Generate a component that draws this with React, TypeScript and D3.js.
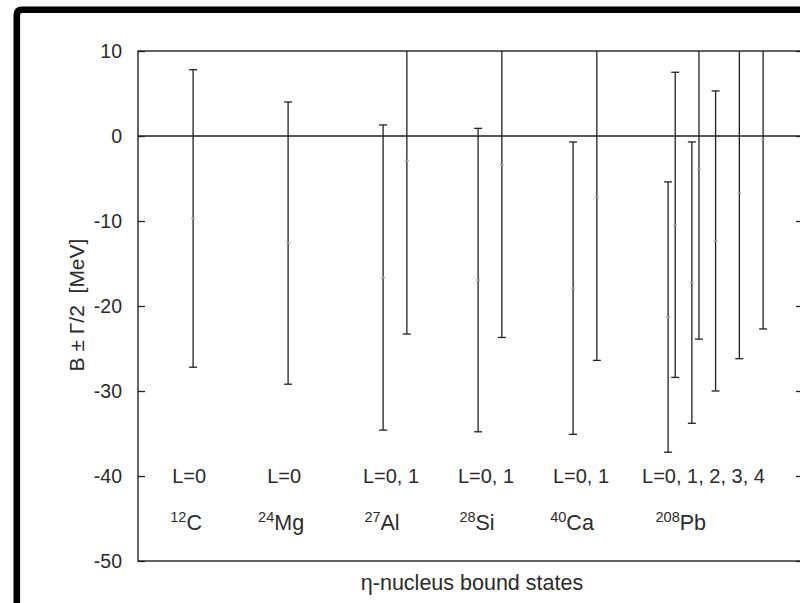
import { useEffect, useRef } from "react";
import * as d3 from "d3";

// eta-nucleus bound states: binding energy B and half width Gamma/2 (MeV)
const nuclei = ["12C", "24Mg", "27Al", "28Si", "40Ca", "208Pb"];
const nucleusMass = ["12", "24", "27", "28", "40", "208"];
const nucleusSymbol = ["C", "Mg", "Al", "Si", "Ca", "Pb"];
const lLabels = ["L=0", "L=0", "L=0, 1", "L=0, 1", "L=0, 1", "L=0, 1, 2, 3, 4"];

// one entry per state
const stateNucleus = [0, 1, 2, 2, 3, 3, 4, 4, 5, 5, 5, 5, 5, 5, 5];
const stateX = [1, 2, 3, 3.25, 4, 4.25, 5, 5.25, 6, 6.075, 6.25, 6.325, 6.5, 6.75, 7];
const stateB = [-9.7, -12.6, -16.65, -2.9, -16.95, -3.4, -17.9, -7.2, -21.3, -10.45, -17.25, -3.9, -12.35, -6.7, -0.4];
const stateHalfGamma = [17.5, 16.6, 17.95, 20.4, 17.85, 20.3, 17.2, 19.2, 15.9, 17.95, 16.55, 20.0, 17.65, 19.5, 22.3];

const yTicks = [10, 0, -10, -20, -30, -40, -50];

const width = 800;
const height = 603;

const App = () => {
  const svgRef = useRef<SVGSVGElement>(null);

  useEffect(() => {
    const svg = d3.select(svgRef.current);
    svg.selectAll("*").remove();

    const margin = { left: 138, top: 51, right: -3, bottom: 42 };
    const innerW = width - margin.left - margin.right;
    const innerH = height - margin.top - margin.bottom;
    const ink = "#222";
    const txt = "#2b2b2b";
    const font = "'Liberation Sans', Arial, sans-serif";

    const x = d3.scaleLinear().domain([0.42, 7.42]).range([0, innerW]);
    const y = d3.scaleLinear().domain([-50, 10]).range([innerH, 0]);

    svg.append("rect").attr("width", width).attr("height", height).attr("fill", "#fff");

    const g = svg.append("g").attr("transform", `translate(${margin.left},${margin.top})`);

    g.append("clipPath").attr("id", "plot-clip")
      .append("rect").attr("width", innerW).attr("height", innerH);

    // frame
    g.append("rect")
      .attr("width", innerW).attr("height", innerH)
      .attr("fill", "none").attr("stroke", ink).attr("stroke-width", 1.4);

    // zero line
    g.append("line")
      .attr("x1", 0).attr("x2", innerW)
      .attr("y1", y(0)).attr("y2", y(0))
      .attr("stroke", ink).attr("stroke-width", 1.4);

    // left / right axes, ticks inward
    const left = g.append("g").call(d3.axisRight(y).tickValues(yTicks).tickSize(7).tickFormat(() => ""));
    left.select(".domain").remove();
    left.selectAll("line").attr("stroke", ink).attr("stroke-width", 1.3);

    const right = g.append("g").attr("transform", `translate(${innerW},0)`)
      .call(d3.axisLeft(y).tickValues(yTicks).tickSize(7).tickFormat(() => ""));
    right.select(".domain").remove();
    right.selectAll("line").attr("stroke", ink).attr("stroke-width", 1.3);

    g.selectAll("text.ytick")
      .data(yTicks)
      .enter()
      .append("text")
      .attr("class", "ytick")
      .attr("x", -16)
      .attr("y", d => y(d))
      .attr("dy", "0.36em")
      .attr("text-anchor", "end")
      .attr("font-family", font)
      .attr("font-size", 19.5)
      .attr("fill", txt)
      .text(d => d);

    // error bars
    const states = stateX.map((sx, i) => ({ x: sx, b: stateB[i], hg: stateHalfGamma[i] }));
    const bars = g.append("g").attr("clip-path", "url(#plot-clip)");
    const cap = 4;

    bars.selectAll("line.bar")
      .data(states)
      .enter()
      .append("line")
      .attr("class", "bar")
      .attr("x1", d => x(d.x)).attr("x2", d => x(d.x))
      .attr("y1", d => y(d.b + d.hg)).attr("y2", d => y(d.b - d.hg))
      .attr("stroke", ink).attr("stroke-width", 1.3);

    bars.selectAll("line.capTop")
      .data(states)
      .enter()
      .append("line")
      .attr("class", "capTop")
      .attr("x1", d => x(d.x) - cap).attr("x2", d => x(d.x) + cap)
      .attr("y1", d => y(d.b + d.hg)).attr("y2", d => y(d.b + d.hg))
      .attr("stroke", ink).attr("stroke-width", 1.3);

    bars.selectAll("line.capBottom")
      .data(states)
      .enter()
      .append("line")
      .attr("class", "capBottom")
      .attr("x1", d => x(d.x) - cap).attr("x2", d => x(d.x) + cap)
      .attr("y1", d => y(d.b - d.hg)).attr("y2", d => y(d.b - d.hg))
      .attr("stroke", ink).attr("stroke-width", 1.3);

    bars.selectAll("line.mid")
      .data(states)
      .enter()
      .append("line")
      .attr("class", "mid")
      .attr("x1", d => x(d.x) - 2).attr("x2", d => x(d.x) + 2)
      .attr("y1", d => y(d.b)).attr("y2", d => y(d.b))
      .attr("stroke", "#aaa").attr("stroke-width", 1.5);

    // group labels
    const groupCenter = nuclei.map((_, k) => d3.mean(stateX.filter((_, i) => stateNucleus[i] === k)) as number);
    const groupFirst = nuclei.map((_, k) => stateX[stateNucleus.indexOf(k)]);

    g.selectAll("text.lab")
      .data(lLabels)
      .enter()
      .append("text")
      .attr("class", "lab")
      .attr("x", (_, k) => x(groupCenter[k]) - 4)
      .attr("y", y(-40))
      .attr("dy", "0.36em")
      .attr("text-anchor", "middle")
      .attr("font-family", font)
      .attr("font-size", 20)
      .attr("fill", txt)
      .text(d => d);

    const nuc = g.selectAll("text.nuc")
      .data(nuclei)
      .enter()
      .append("text")
      .attr("class", "nuc")
      .attr("x", (_, k) => (x(groupFirst[k]) + x(groupCenter[k])) / 2 - 7)
      .attr("y", y(-46.3))
      .attr("text-anchor", "middle")
      .attr("font-family", font)
      .attr("font-size", 21.5)
      .attr("fill", txt);
    nuc.append("tspan").attr("font-size", 14.5).attr("dy", -8).text((_, k) => nucleusMass[k]);
    nuc.append("tspan").attr("dy", 8).text((_, k) => nucleusSymbol[k]);

    // axis titles
    svg.append("text")
      .attr("x", 472).attr("y", 590)
      .attr("text-anchor", "middle")
      .attr("font-family", font)
      .attr("font-size", 21.5)
      .attr("fill", txt)
      .text("\u03b7-nucleus bound states");

    svg.append("text")
      .attr("transform", "translate(84,305) rotate(-90)")
      .attr("text-anchor", "middle")
      .attr("font-family", font)
      .attr("font-size", 21)
      .attr("fill", txt)
      .attr("xml:space", "preserve")
      .text("B \u00b1 \u0393/2  [MeV]");

    // thick screenshot frame
    svg.append("path")
      .attr("d", `M16.8,${height} V15 Q16.8,9.8 22,9.8 H${width}`)
      .attr("fill", "none")
      .attr("stroke", "#000")
      .attr("stroke-width", 6.6);
  }, []);

  return (
    <div style={{ position: "absolute", left: 0, top: 0 }}>
      <svg ref={svgRef} width={width} height={height} style={{ display: "block" }} />
    </div>
  );
};

export default App;
